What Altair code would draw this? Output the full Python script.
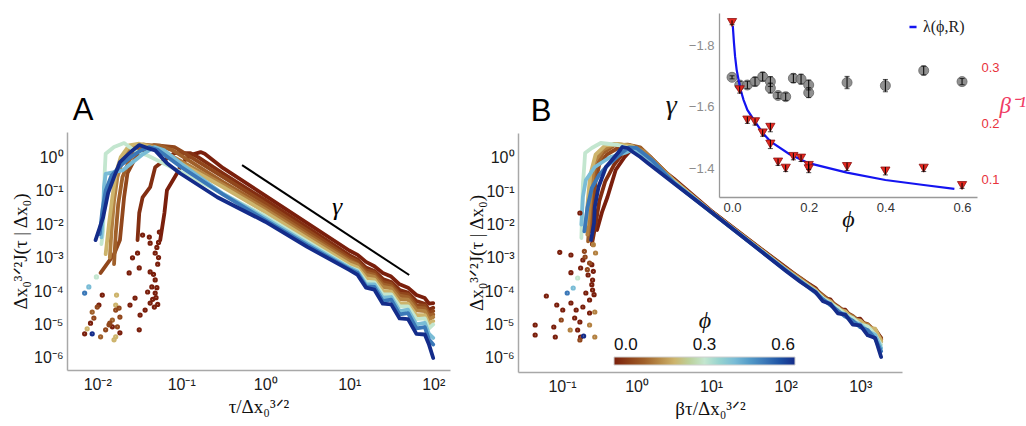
import altair as alt
import pandas as pd

# ---------------- data (log10 values) ----------------
PHIS = [0.0, 0.02, 0.06, 0.10, 0.14, 0.20, 0.30, 0.40, 0.50, 0.60]

# Panel A : rising part + peak (log10 x, log10 y)
A_HX_00 = [-1.25, -1.2, -1.17, -1.05, -0.99, -0.89, -0.77, -0.72, -0.5]
A_HY_00 = [-2.48, -1.67, -0.99, -0.48, -0.18, 0.06, 0.15, 0.1, -0.33]
A_HX_02 = [-1.52, -1.5, -1.46, -1.37, -1.31, -1.2, -1.08, -0.89, -0.8, -0.5]
A_HY_02 = [-2.48, -1.67, -1.2, -0.9, -0.3, -0.09, 0.12, 0.12, 0.0, -0.49]
A_HX_06 = [-1.96, -1.8, -1.73, -1.68, -1.64, -1.56, -1.45, -1.32, -1.08, -1.0, -0.5]
A_HY_06 = [-3.46, -2.9, -2.48, -1.19, -0.48, -0.09, 0.2, 0.36, 0.3, 0.18, -0.6]
A_HX_10 = [-1.8, -1.78, -1.75, -1.7, -1.62, -1.52, -1.4, -1.25, -1.1, -0.5]
A_HY_10 = [-3.2, -2.3, -1.4, -0.6, -0.1, 0.25, 0.36, 0.34, 0.2, -0.75]
A_HX_14 = [-1.85, -1.83, -1.8, -1.76, -1.7, -1.6, -1.45, -1.3, -0.5]
A_HY_14 = [-3.0, -2.2, -1.3, -0.6, -0.1, 0.3, 0.38, 0.3, -0.82]
A_HX_20 = [-1.9, -1.86, -1.82, -1.78, -1.72, -1.62, -1.5, -1.35, -0.5]
A_HY_20 = [-2.9, -2.0, -1.2, -0.5, 0.0, 0.35, 0.4, 0.3, -0.9]
A_HX_30 = [-1.95, -1.93, -1.92, -1.91, -1.9, -1.8, -1.68, -1.56, -1.4, -1.0, -0.5]
A_HY_30 = [-2.6, -2.2, -1.2, -0.4, 0.1, 0.3, 0.42, 0.2, 0.05, -0.45, -1.1]
A_HX_40 = [-1.95, -1.93, -1.92, -1.9, -1.8, -1.7, -1.6, -1.45, -1.32, -1.2, -1.0, -0.5]
A_HY_40 = [-2.4, -1.6, -0.9, -0.5, -0.45, -0.4, -0.2, 0.1, 0.3, 0.2, -0.2, -1.1]
A_HX_50 = [-1.97, -1.94, -1.9, -1.83, -1.72, -1.6, -1.48, -1.38, -1.28, -1.0, -0.5]
A_HY_50 = [-2.3, -1.6, -1.0, -0.55, -0.25, 0.0, 0.2, 0.3, 0.22, -0.3, -1.12]
A_HX_60 = [-2.02, -1.93, -1.87, -1.8, -1.73, -1.58, -1.5, -1.4, -1.31, -1.17, -1.01, -0.57]
A_HY_60 = [-2.48, -1.8, -1.07, -0.6, -0.15, 0.2, 0.36, 0.27, 0.2, -0.18, -0.49, -1.2]

# Panel A : decaying tail on a shared log10 x grid
A_TAIL_LX = [0.0, 0.5, 1.0, 1.1, 1.2, 1.3, 1.4, 1.5, 1.6, 1.7, 1.8, 1.9, 1.95, 2.0]
A_TY_00 = [-1.15, -1.97, -2.79, -2.92, -3.13, -3.26, -3.46, -3.57, -3.8, -3.9, -4.12, -4.21, -4.38, -4.36]
A_TY_02 = [-1.28, -2.1, -2.93, -3.06, -3.3, -3.4, -3.64, -3.73, -3.97, -4.05, -4.3, -4.38, -4.56, -4.5]
A_TY_06 = [-1.38, -2.19, -3.0, -3.12, -3.38, -3.44, -3.73, -3.79, -4.08, -4.1, -4.42, -4.44, -4.66, -4.6]
A_TY_10 = [-1.48, -2.28, -3.07, -3.2, -3.45, -3.52, -3.8, -3.86, -4.14, -4.18, -4.5, -4.52, -4.74, -4.7]
A_TY_14 = [-1.56, -2.35, -3.12, -3.22, -3.52, -3.58, -3.88, -3.92, -4.24, -4.26, -4.58, -4.6, -4.85, -4.78]
A_TY_20 = [-1.64, -2.43, -3.2, -3.3, -3.62, -3.66, -4.0, -4.02, -4.36, -4.38, -4.72, -4.72, -4.98, -4.9]
A_TY_30 = [-1.76, -2.52, -3.28, -3.38, -3.72, -3.74, -4.1, -4.1, -4.46, -4.46, -4.84, -4.82, -5.12, -5.0]
A_TY_40 = [-1.82, -2.58, -3.3, -3.42, -3.8, -3.8, -4.2, -4.18, -4.6, -4.56, -5.0, -4.95, -5.28, -5.4]
A_TY_50 = [-1.88, -2.63, -3.34, -3.46, -3.86, -3.88, -4.3, -4.26, -4.7, -4.66, -5.12, -5.08, -5.45, -5.6]
A_TY_60 = [-1.93, -2.68, -3.37, -3.52, -3.9, -3.96, -4.38, -4.4, -4.82, -4.84, -5.28, -5.3, -5.6, -6.0]

# Panel A : scattered early points
A_DOT_PHI = [0.0] * 36 + [0.2] * 5 + [0.10] * 3 + [0.06] * 9 + [0.30, 0.40, 0.50, 0.60]
A_DOT_LX = [-1.46, -1.38, -1.26, -1.37, -1.31, -1.52, -1.58, -1.62, -1.5, -1.37, -1.31, -1.35,
            -1.4, -1.31, -1.37, -1.32, -1.43, -1.55, -1.61, -1.49, -1.5, -1.94, -1.98, -2.08,
            -2.15, -1.82, -1.73, -1.28, -1.27, -1.29, -1.33, -1.29, -1.3, -1.34, -1.28, -1.27,
            -1.77, -1.78, -2.12, -1.78, -1.8,
            -2.06, -1.82, -1.96,
            -2.04, -1.76, -1.9, -1.85, -1.74, -1.78, -2.0, -1.73, -1.86,
            -2.01, -2.1, -2.15, -2.06]
A_DOT_LY = [-2.33, -2.39, -2.24, -2.57, -2.87, -2.87, -3.01, -3.46, -3.31, -3.43, -3.67, -3.88,
            -4.03, -4.06, -4.36, -4.48, -4.57, -4.21, -4.42, -4.72, -5.16, -4.12, -4.42, -4.96,
            -5.28, -5.07, -5.25, -3.2, -3.0, -2.7, -3.5, -3.9, -4.2, -4.25, -4.4, -2.55,
            -4.12, -4.42, -5.13, -5.37, -5.46,
            -4.63, -4.87, -5.37,
            -4.81, -5.07, -5.16, -4.96, -4.51, -4.57, -4.48, -4.78, -5.01,
            -3.58, -3.88, -4.06, -5.28]

# Panel B : rising part + peak
B_HX_00 = [-0.53, -0.46, -0.39, -0.28, -0.16, -0.05, 0.0, 0.2, 0.5]
B_HY_00 = [-2.16, -1.6, -1.17, -0.36, 0.03, 0.3, 0.28, -0.1, -0.62]
B_HX_02 = [-0.6, -0.55, -0.5, -0.42, -0.3, -0.18, -0.08, 0.05, 0.2, 0.5]
B_HY_02 = [-2.6, -2.0, -1.3, -0.7, -0.2, 0.15, 0.35, 0.3, 0.0, -0.66]
B_HX_06 = [-0.62, -0.58, -0.55, -0.5, -0.4, -0.25, -0.1, 0.05, 0.5]
B_HY_06 = [-2.2, -1.4, -0.7, -0.2, 0.1, 0.3, 0.38, 0.3, -0.68]
B_HX_10 = [-0.65, -0.62, -0.6, -0.55, -0.45, -0.3, -0.12, 0.05, 0.5]
B_HY_10 = [-2.5, -1.6, -0.9, -0.3, 0.15, 0.38, 0.4, 0.32, -0.67]
B_HX_14 = [-0.66, -0.63, -0.6, -0.56, -0.45, -0.3, -0.1, 0.1, 0.5]
B_HY_14 = [-2.3, -1.5, -0.7, -0.1, 0.25, 0.42, 0.38, 0.2, -0.66]
B_HX_20 = [-0.68, -0.65, -0.62, -0.55, -0.42, -0.25, -0.05, 0.5]
B_HY_20 = [-2.0, -1.2, -0.5, 0.1, 0.38, 0.42, 0.35, -0.68]
B_HX_30 = [-0.74, -0.73, -0.72, -0.7, -0.69, -0.6, -0.48, -0.25, -0.1, 0.5]
B_HY_30 = [-2.4, -1.6, -0.8, -0.2, 0.15, 0.3, 0.45, 0.39, 0.3, -0.72]
B_HX_40 = [-0.74, -0.72, -0.68, -0.56, -0.35, -0.16, -0.05, 0.1, 0.5]
B_HY_40 = [-2.0, -1.17, -0.66, -0.27, 0.03, 0.15, 0.25, 0.1, -0.72]
B_HX_50 = [-0.7, -0.66, -0.6, -0.5, -0.4, -0.3, -0.2, -0.1, 0.0, 0.2, 0.5]
B_HY_50 = [-2.2, -1.5, -0.9, -0.5, -0.25, -0.05, 0.15, 0.32, 0.3, -0.05, -0.74]
B_HX_60 = [-0.61, -0.57, -0.56, -0.51, -0.41, -0.33, -0.25, -0.19, -0.12, -0.05, 0.05, 0.15, 0.5]
B_HY_60 = [-2.46, -1.95, -1.47, -0.87, -0.27, -0.06, 0.15, 0.33, 0.3, 0.18, 0.03, -0.15, -0.76]

# Panel B : tail on a shared log10 x grid
B_TAIL_LX = [1.0, 1.5, 2.0, 2.2, 2.4, 2.5, 2.6, 2.7, 2.8, 2.9, 3.0, 3.1, 3.2, 3.28]
B_TY_00 = [-1.58, -2.44, -3.28, -3.62, -3.9, -4.2, -4.24, -4.54, -4.55, -4.84, -4.82, -5.1, -5.14, -5.4]
B_TY_02 = [-1.6, -2.46, -3.32, -3.64, -3.96, -4.18, -4.32, -4.52, -4.64, -4.82, -4.94, -5.08, -5.25, -5.45]
B_TY_06 = [-1.6, -2.45, -3.3, -3.6, -3.94, -4.12, -4.3, -4.45, -4.62, -4.74, -4.92, -4.98, -5.2, -5.4]
B_TY_10 = [-1.61, -2.47, -3.33, -3.66, -3.95, -4.2, -4.3, -4.52, -4.6, -4.82, -4.88, -5.05, -5.15, -5.5]
B_TY_14 = [-1.61, -2.46, -3.32, -3.63, -3.98, -4.15, -4.34, -4.48, -4.66, -4.76, -4.96, -5.0, -5.22, -5.45]
B_TY_20 = [-1.62, -2.48, -3.34, -3.66, -3.96, -4.22, -4.3, -4.56, -4.6, -4.86, -4.88, -5.1, -5.12, -5.5]
B_TY_30 = [-1.62, -2.48, -3.35, -3.68, -4.0, -4.2, -4.36, -4.5, -4.7, -4.8, -5.0, -5.05, -5.3, -5.6]
B_TY_40 = [-1.62, -2.49, -3.36, -3.7, -4.0, -4.26, -4.36, -4.62, -4.68, -4.92, -4.98, -5.2, -5.3, -5.7]
B_TY_50 = [-1.62, -2.5, -3.37, -3.7, -4.04, -4.24, -4.42, -4.58, -4.76, -4.88, -5.08, -5.16, -5.42, -5.8]
B_TY_60 = [-1.62, -2.5, -3.38, -3.72, -4.02, -4.3, -4.38, -4.66, -4.7, -5.0, -5.02, -5.32, -5.4, -5.97]

B_DOT_PHI = [0.0] * 30 + [0.06] * 6 + [0.14] * 6 + [0.30, 0.40, 0.50, 0.60]
B_DOT_LX = [-1.03, -0.88, -0.72, -0.88, -0.75, -0.65, -0.59, -0.59, -0.63, -1.21, -1.07, -0.99,
            -0.88, -0.81, -0.72, -0.83, -0.76, -1.36, -1.36, -1.11, -1.09, -0.79, -0.75, -0.63,
            -0.68, -0.76, -0.6, -0.58, -0.6, -0.57,
            -1.01, -0.76, -0.69, -0.63, -0.7, -0.66,
            -0.89, -0.63, -0.56, -0.56, -0.55, -0.58,
            -0.79, -0.85, -0.93, -0.71]
B_DOT_LY = [-2.83, -2.91, -3.06, -3.44, -3.3, -3.51, -3.66, -3.96, -4.26, -4.14, -4.41, -4.56,
            -4.35, -4.56, -4.47, -4.8, -4.92, -5.01, -5.31, -5.07, -5.37, -5.16, -5.37, -4.65,
            -4.05, -1.65, -3.2, -3.4, -3.8, -4.1,
            -4.86, -5.46, -2.97, -3.15, -2.8, -3.35,
            -5.16, -5.01, -5.37, -4.62, -2.85, -2.6,
            -3.6, -3.9, -4.05, -5.34]

# power-law guide line in panel A
GUIDE_X = [0.53, 51.8]
GUIDE_Y = [0.577, 3.0e-4]

# Inset
INS_PHI = [0.0, 0.02, 0.04, 0.06, 0.08, 0.10, 0.10, 0.12, 0.14, 0.16, 0.18, 0.20, 0.20, 0.30, 0.40, 0.50, 0.60]
GAMMA = [-1.695, -1.670, -1.670, -1.681, -1.697, -1.681, -1.660, -1.636, -1.632, -1.692, -1.689,
         -1.670, -1.645, -1.678, -1.668, -1.717, -1.681]
GAMMA_ERR = [0.005, 0.012, 0.012, 0.014, 0.014, 0.016, 0.016, 0.010, 0.012, 0.014, 0.016,
             0.016, 0.016, 0.020, 0.020, 0.014, 0.010]
BETA_INV = [0.381, 0.261, 0.207, 0.204, 0.184, 0.194, 0.164, 0.132, 0.121, 0.142, 0.139,
            0.126, 0.120, 0.124, 0.116, 0.121, 0.090]
BETA_ERR = [0.004, 0.006, 0.006, 0.006, 0.006, 0.008, 0.008, 0.006, 0.006, 0.006, 0.006,
            0.007, 0.007, 0.007, 0.007, 0.006, 0.005]
LAMBDA_PHI = [0.002, 0.005, 0.008, 0.012, 0.017, 0.022, 0.03, 0.04, 0.06, 0.08, 0.10, 0.15,
              0.2, 0.3, 0.4, 0.5, 0.58]
LAMBDA_VAL = [0.375, 0.345, 0.32, 0.297, 0.279, 0.262, 0.243, 0.225, 0.204, 0.184, 0.169,
              0.146, 0.130, 0.113, 0.100, 0.091, 0.084]

COLOR_STOPS = [0.0, 0.1, 0.2, 0.3, 0.4, 0.5, 0.6]
COLOR_RANGE = ["#7a1f0c", "#a0602a", "#cdb46c", "#c3e6cf", "#79bcd6", "#3b78b8", "#142c8a"]

# ---------------- tables ----------------
A_SETS = [(A_HX_00, A_HY_00, A_TY_00), (A_HX_02, A_HY_02, A_TY_02), (A_HX_06, A_HY_06, A_TY_06),
          (A_HX_10, A_HY_10, A_TY_10), (A_HX_14, A_HY_14, A_TY_14), (A_HX_20, A_HY_20, A_TY_20),
          (A_HX_30, A_HY_30, A_TY_30), (A_HX_40, A_HY_40, A_TY_40), (A_HX_50, A_HY_50, A_TY_50),
          (A_HX_60, A_HY_60, A_TY_60)]
B_SETS = [(B_HX_00, B_HY_00, B_TY_00), (B_HX_02, B_HY_02, B_TY_02), (B_HX_06, B_HY_06, B_TY_06),
          (B_HX_10, B_HY_10, B_TY_10), (B_HX_14, B_HY_14, B_TY_14), (B_HX_20, B_HY_20, B_TY_20),
          (B_HX_30, B_HY_30, B_TY_30), (B_HX_40, B_HY_40, B_TY_40), (B_HX_50, B_HY_50, B_TY_50),
          (B_HX_60, B_HY_60, B_TY_60)]


def line_table(sets, tail_lx):
    rows = []
    for k, (phi, (hx, hy, ty)) in enumerate(zip(PHIS, sets)):
        for i, (a, b) in enumerate(zip(hx + tail_lx, hy + ty)):
            rows.append({"phi": phi, "curve": k, "order": i, "x": 10 ** a, "y": 10 ** b})
    return pd.DataFrame(rows)


def dot_table(phis, lx, ly):
    return pd.DataFrame({"phi": phis, "x": [10 ** a for a in lx], "y": [10 ** b for b in ly]})


a_lines = line_table(A_SETS, A_TAIL_LX)
b_lines = line_table(B_SETS, B_TAIL_LX)
a_dots = dot_table(A_DOT_PHI, A_DOT_LX, A_DOT_LY)
b_dots = dot_table(B_DOT_PHI, B_DOT_LX, B_DOT_LY)
guide = pd.DataFrame({"x": [GUIDE_X[0]], "x2": [GUIDE_X[1]], "y": [GUIDE_Y[0]], "y2": [GUIDE_Y[1]]})
ins = pd.DataFrame({"phi": INS_PHI, "g": GAMMA, "ge": GAMMA_ERR, "b": BETA_INV, "be": BETA_ERR})
ins["g_lo"] = ins["g"] - ins["ge"]
ins["g_hi"] = ins["g"] + ins["ge"]
ins["b_lo"] = ins["b"] - ins["be"]
ins["b_hi"] = ins["b"] + ins["be"]
lam = pd.DataFrame({"phi": LAMBDA_PHI, "v": LAMBDA_VAL, "name": "λ(ϕ,R)"})

# ---------------- scales / axes ----------------
SUP = str.maketrans("-0123456789", "⁻⁰¹²³⁴⁵⁶⁷⁸⁹")


def pow_labels(exps):
    expr = "''"
    for e in exps:
        lab = "10" + str(e).translate(SUP)
        expr = f"abs(log(datum.value)/LN10 - ({e})) < 0.01 ? '{lab}' : ({expr})"
    return expr


CSCALE = alt.Scale(domain=COLOR_STOPS, range=COLOR_RANGE)
A_XS = alt.Scale(type="log", domain=[0.004365, 158.5], range=[67, 450], nice=False)
A_YS = alt.Scale(type="log", domain=[4.365e-7, 5.623], range=[370, 132], nice=False)
B_XS = alt.Scale(type="log", domain=[0.0257, 3631.0], range=[518, 902], nice=False)
B_YS = alt.Scale(type="log", domain=[3.8e-7, 5.623], range=[372, 133], nice=False)
I_XS = alt.Scale(domain=[-0.034, 0.639], range=[719, 977], nice=False, zero=False)
I_GS = alt.Scale(domain=[-1.904, -1.306], range=[13, 197], nice=False, zero=False)
I_BS = alt.Scale(domain=[0.0696, 0.398], range=[197, 13], nice=False, zero=False)

COMMON = dict(grid=False, ticks=False, domainColor="#a8a8a8", domainWidth=1.5,
              labelFont="Liberation Sans", labelColor="#1a1a1a", labelFlush=False,
              titleFontWeight="normal", titleColor="#111111")
YEXPS = [-6, -5, -4, -3, -2, -1, 0]
YVALS = [1e-6, 1e-5, 1e-4, 1e-3, 1e-2, 1e-1, 1.0]
YTITLE = "Δx₀³ᐟ²J(τ | Δx₀)"

A_XAX = alt.Axis(orient="bottom", offset=-56, values=[0.01, 0.1, 1.0, 10.0, 100.0],
                 labelExpr=pow_labels([-2, -1, 0, 1, 2]), labelFontSize=16, labelPadding=6,
                 title="τ/Δx₀³ᐟ²", titleFont="Liberation Serif", titleFontSize=19, titlePadding=5,
                 **COMMON)
A_YAX = alt.Axis(orient="left", offset=-67, values=YVALS, labelExpr=pow_labels(YEXPS),
                 labelFontSize=16, labelPadding=4, title=YTITLE, titleFont="Liberation Serif",
                 titleFontSize=19, titlePadding=3, **COMMON)
B_XAX = alt.Axis(orient="bottom", offset=-54, values=[0.1, 1.0, 10.0, 100.0, 1000.0],
                 labelExpr=pow_labels([-1, 0, 1, 2, 3]), labelFontSize=16, labelPadding=6,
                 title="βτ/Δx₀³ᐟ²", titleFont="Liberation Serif", titleFontSize=19, titlePadding=5,
                 **COMMON)
B_YAX = alt.Axis(orient="left", offset=-518, values=YVALS, labelExpr=pow_labels(YEXPS),
                 labelFontSize=16, labelPadding=4, title=YTITLE, titleFont="Liberation Serif",
                 titleFontSize=19, titlePadding=-2, **COMMON)

I_XAX = alt.Axis(orient="bottom", offset=-229, values=[0.0, 0.2, 0.4, 0.6], format=".1f",
                 grid=False, ticks=False, domainColor="#999999", domainWidth=1.3,
                 labelFont="Liberation Sans", labelFontSize=13, labelColor="#333333", labelPadding=4,
                 labelFlush=False, title="ϕ", titleFont="Liberation Serif", titleFontStyle="italic",
                 titleFontSize=24, titleFontWeight="normal", titleColor="#111111", titlePadding=-7)
I_GAX = alt.Axis(orient="left", offset=-719, values=[-1.8, -1.6, -1.4], format=".1f",
                 grid=False, ticks=False, domainColor="#999999", domainWidth=1.3,
                 labelFont="Liberation Sans", labelFontSize=13, labelColor="#8c8c8c", labelPadding=5,
                 title="γ", titleAngle=0, titleAlign="right", titleBaseline="middle",
                 titleFont="Liberation Serif", titleFontStyle="italic", titleFontSize=28,
                 titleFontWeight="normal", titleColor="#111111", titlePadding=12)
I_BAX = alt.Axis(orient="right", offset=-49, values=[0.1, 0.2, 0.3], format=".1f",
                 grid=False, ticks=False, domain=False,
                 labelFont="Liberation Sans", labelFontSize=13, labelColor="#e8323c", labelPadding=4,
                 title="β⁻¹", titleAngle=0, titleAlign="left", titleBaseline="middle",
                 titleFont="Liberation Serif", titleFontStyle="italic", titleFontSize=23,
                 titleFontWeight="normal", titleColor="#f03c64", titlePadding=0)

CBAR = alt.Legend(type="gradient", orient="none", legendX=614, legendY=309, direction="horizontal",
                  gradientLength=181, gradientThickness=8, gradientStrokeColor="#d0d0d0",
                  gradientStrokeWidth=1, values=[0.0, 0.3, 0.6], format=".1f",
                  labelFont="Liberation Sans", labelFontSize=17, labelColor="#111111",
                  labelOffset={"expr": "-28"},
                  title="ϕ", titleFont="Liberation Serif", titleFontStyle="italic",
                  titleFontSize=24, titleFontWeight="normal", titleColor="#111111",
                  titleAnchor="middle", titlePadding=24, padding=0)

NOAX = None

# ---------------- panel A ----------------
a_l = alt.Chart(a_lines).mark_line(strokeWidth=3.8, strokeJoin="round", strokeCap="round").encode(
    x=alt.X("x:Q", scale=A_XS, axis=A_XAX),
    y=alt.Y("y:Q", scale=A_YS, axis=A_YAX),
    color=alt.Color("phi:Q", scale=CSCALE, legend=CBAR),
    detail="curve:N", order="order:Q")
# unfilled points with a thick outline -> small solid dots; colour goes to stroke like the lines
a_d = alt.Chart(a_dots).mark_point(shape="circle", filled=False, size=5, strokeWidth=3,
                                   opacity=1).encode(
    x=alt.X("x:Q", scale=A_XS, axis=NOAX), y=alt.Y("y:Q", scale=A_YS, axis=NOAX),
    color=alt.Color("phi:Q", scale=CSCALE, legend=CBAR))
a_g = alt.Chart(guide).mark_rule(color="black", strokeWidth=2).encode(
    x=alt.X("x:Q", scale=A_XS, axis=NOAX), x2="x2:Q",
    y=alt.Y("y:Q", scale=A_YS, axis=NOAX), y2="y2:Q")
a_t1 = alt.Chart(pd.DataFrame({"x": [0.0068], "y": [23.6], "t": ["A"]})).mark_text(
    font="Liberation Sans", fontSize=31, color="black").encode(
    x=alt.X("x:Q", scale=A_XS, axis=NOAX), y=alt.Y("y:Q", scale=A_YS, axis=NOAX), text="t:N")
a_t2 = alt.Chart(pd.DataFrame({"x": [7.2], "y": [0.032], "t": ["γ"]})).mark_text(
    font="Liberation Serif", fontStyle="italic", fontSize=26, color="black").encode(
    x=alt.X("x:Q", scale=A_XS, axis=NOAX), y=alt.Y("y:Q", scale=A_YS, axis=NOAX), text="t:N")

# ---------------- panel B ----------------
b_l = alt.Chart(b_lines).mark_line(strokeWidth=3.8, strokeJoin="round", strokeCap="round").encode(
    x=alt.X("x:Q", scale=B_XS, axis=B_XAX),
    y=alt.Y("y:Q", scale=B_YS, axis=B_YAX),
    color=alt.Color("phi:Q", scale=CSCALE, legend=CBAR),
    detail="curve:N", order="order:Q")
b_d = alt.Chart(b_dots).mark_point(shape="circle", filled=False, size=5, strokeWidth=3,
                                   opacity=1).encode(
    x=alt.X("x:Q", scale=B_XS, axis=NOAX), y=alt.Y("y:Q", scale=B_YS, axis=NOAX),
    color=alt.Color("phi:Q", scale=CSCALE, legend=CBAR))
b_t = alt.Chart(pd.DataFrame({"x": [0.0525], "y": [24.0], "t": ["B"]})).mark_text(
    font="Liberation Sans", fontSize=31, color="black").encode(
    x=alt.X("x:Q", scale=B_XS, axis=NOAX), y=alt.Y("y:Q", scale=B_YS, axis=NOAX), text="t:N")

# ---------------- inset ----------------
base = alt.Chart(ins)
g_pts = base.mark_circle(size=100, color="#858585", opacity=0.9, stroke="#555555",
                         strokeWidth=0.8).encode(
    x=alt.X("phi:Q", scale=I_XS, axis=I_XAX), y=alt.Y("g:Q", scale=I_GS, axis=I_GAX))
g_err = base.mark_rule(color="black", strokeWidth=1).encode(
    x=alt.X("phi:Q", scale=I_XS, axis=NOAX), y=alt.Y("g_lo:Q", scale=I_GS, axis=NOAX), y2="g_hi:Q")
g_c1 = base.mark_tick(color="black", thickness=1, size=5, orient="horizontal").encode(
    x=alt.X("phi:Q", scale=I_XS, axis=NOAX), y=alt.Y("g_lo:Q", scale=I_GS, axis=NOAX))
g_c2 = base.mark_tick(color="black", thickness=1, size=5, orient="horizontal").encode(
    x=alt.X("phi:Q", scale=I_XS, axis=NOAX), y=alt.Y("g_hi:Q", scale=I_GS, axis=NOAX))

lam_line = alt.Chart(lam).mark_line(strokeWidth=2.2).encode(
    x=alt.X("phi:Q", scale=I_XS, axis=NOAX),
    y=alt.Y("v:Q", scale=I_BS, axis=I_BAX),
    stroke=alt.Stroke("name:N", scale=alt.Scale(range=["#1414f0"]),
                      legend=alt.Legend(orient="none", legendX=905, legendY=19, title=None,
                                        symbolType="stroke", symbolStrokeWidth=2.5, symbolSize=50,
                                        labelFont="Liberation Serif", labelFontSize=16,
                                        labelColor="#222222", labelOffset=2, padding=0)))
b_pts = base.mark_point(shape="triangle-down", filled=True, size=85, color="#e8281e",
                        stroke="#8a1010", strokeWidth=0.8, opacity=1).encode(
    x=alt.X("phi:Q", scale=I_XS, axis=NOAX), y=alt.Y("b:Q", scale=I_BS, axis=NOAX))
b_err = base.mark_rule(color="black", strokeWidth=1).encode(
    x=alt.X("phi:Q", scale=I_XS, axis=NOAX), y=alt.Y("b_lo:Q", scale=I_BS, axis=NOAX), y2="b_hi:Q")
b_c1 = base.mark_tick(color="black", thickness=1, size=5, orient="horizontal").encode(
    x=alt.X("phi:Q", scale=I_XS, axis=NOAX), y=alt.Y("b_lo:Q", scale=I_BS, axis=NOAX))

chart = (
    alt.layer(a_l, a_d, a_g, a_t1, a_t2, b_l, b_d, b_t,
              g_pts, g_err, g_c1, g_c2, lam_line, b_pts, b_err, b_c1)
    .resolve_scale(x="independent", y="independent")
    .properties(width=1026, height=426, padding=0, background="white",
                autosize=alt.AutoSizeParams(type="none"))
    .configure_view(stroke=None)
)

chart.save("out.html", embed_options={"renderer": "svg", "actions": False})
